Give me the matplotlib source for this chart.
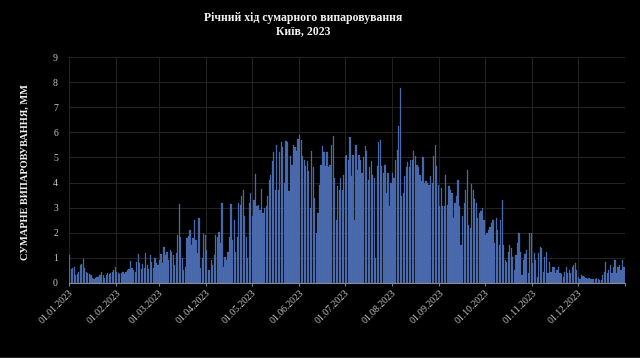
import matplotlib
matplotlib.use("Agg")
import matplotlib.pyplot as plt
from matplotlib.lines import Line2D

title = "Річний хід сумарного випаровування\nКиїв, 2023"
ylabel = "СУМАРНЕ ВИПАРОВУВАННЯ, ММ"
month_labels = ["01.01.2023", "01.02.2023", "01.03.2023", "01.04.2023", "01.05.2023", "01.06.2023",
                "01.07.2023", "01.08.2023", "01.09.2023", "01.10.2023", "01.11.2023", "01.12.2023"]
month_lengths = [31, 28, 31, 30, 31, 30, 31, 31, 30, 31, 30, 31]

jan = [1.10, 0.55, 0.60, 0.65, 0.30, 0.35, 0.45, 0.70, 0.75, 0.95, 0.60, 0.45, 0.40, 0.35, 0.30, 0.20,
       0.15, 0.18, 0.25, 0.22, 0.30, 0.45, 0.30, 0.20, 0.30, 0.40, 0.35, 0.40, 0.45, 0.50, 0.65]
feb = [0.45, 0.40, 0.35, 0.40, 0.45, 0.35, 0.45, 0.50, 0.55, 0.88, 0.60, 0.50, 0.45, 0.85, 1.16, 0.80,
       0.55, 0.75, 0.60, 1.19, 0.70, 0.55, 1.10, 0.85, 0.60, 1.00, 0.80, 0.73]
mar = [0.90, 1.16, 0.80, 1.45, 1.10, 1.24, 0.90, 1.30, 1.25, 1.10, 0.70, 1.20, 1.90, 3.15, 1.85, 1.00,
       0.50, 0.65, 1.80, 1.88, 2.10, 1.50, 1.80, 2.50, 1.70, 1.20, 2.60, 0.60, 1.00, 1.95, 1.90]
apr = [1.30, 0.50, 0.50, 0.90, 0.70, 1.10, 1.90, 1.85, 2.05, 1.60, 3.20, 0.65, 1.05, 0.90, 1.25, 1.85,
       3.15, 1.70, 2.50, 1.25, 1.85, 3.20, 3.10, 3.45, 3.70, 2.65, 1.85, 1.00, 3.20, 3.60]
may = [2.65, 3.30, 4.35, 3.05, 3.10, 2.90, 3.75, 2.80, 3.00, 3.05, 3.45, 4.10, 4.30, 4.85, 5.20, 3.70,
       5.50, 3.70, 5.20, 5.60, 5.40, 4.00, 5.65, 5.60, 3.65, 5.05, 4.70, 5.50, 5.40, 5.25, 5.75]
jun = [5.90, 5.70, 5.05, 4.90, 4.65, 4.85, 4.45, 3.00, 5.25, 4.60, 3.40, 2.00, 2.80, 3.90, 4.70, 5.45,
       5.20, 4.65, 5.20, 4.60, 4.70, 5.50, 5.85, 4.20, 2.50, 3.85, 3.70, 4.20, 3.70, 4.30]
jul = [5.05, 5.10, 4.90, 5.80, 4.25, 5.10, 2.50, 5.50, 4.50, 5.10, 4.90, 4.40, 5.00, 5.45, 5.25, 4.10,
       4.60, 4.85, 4.30, 4.20, 1.00, 4.65, 5.60, 5.70, 4.65, 4.40, 4.70, 3.60, 4.40, 3.05, 4.00]
aug = [4.40, 4.20, 4.90, 5.30, 6.25, 7.75, 3.45, 3.60, 4.25, 4.60, 4.80, 4.60, 4.90, 4.90, 5.25, 5.05,
       4.70, 4.60, 4.30, 4.05, 5.00, 4.00, 4.05, 4.00, 3.90, 4.25, 4.00, 5.05, 5.50, 4.65, 3.90]
sep = [3.05, 3.80, 3.05, 3.05, 4.30, 3.10, 3.85, 3.70, 3.60, 2.60, 3.20, 3.45, 4.10, 3.05, 1.50, 2.65,
       3.20, 3.70, 4.50, 2.30, 2.20, 3.95, 3.70, 3.35, 3.20, 2.60, 2.80, 2.85, 3.00, 2.50]
oct_ = [1.90, 2.00, 2.10, 2.25, 2.40, 2.50, 1.60, 2.60, 2.10, 1.50, 2.50, 3.30, 1.50, 0.90, 0.85, 1.25,
        1.50, 1.40, 1.05, 0.50, 1.10, 1.60, 2.00, 1.25, 0.30, 0.90, 1.15, 1.30, 0.40, 2.00, 2.00]
nov = [0.80, 1.20, 0.90, 0.25, 1.20, 1.45, 1.40, 0.45, 1.05, 1.25, 0.40, 0.85, 0.45, 0.65, 0.65, 0.40,
       0.50, 0.65, 0.40, 0.35, 0.25, 0.45, 0.65, 0.40, 0.50, 0.40, 0.65, 0.70, 0.80, 0.50]
dec = [0.25, 0.15, 0.30, 0.28, 0.25, 0.20, 0.16, 0.20, 0.15, 0.16, 0.15, 0.16, 0.20, 0.15, 0.12, 0.12,
       0.30, 0.45, 0.85, 0.40, 0.50, 0.70, 0.40, 0.65, 0.90, 0.40, 0.65, 0.70, 0.50, 0.90, 0.65]

values = jan + feb + mar + apr + may + jun + jul + aug + sep + oct_ + nov + dec
days = list(range(len(values)))

month_starts = [0]
for n in month_lengths:
    month_starts.append(month_starts[-1] + n)

fig = plt.figure(figsize=(6.4, 3.58), dpi=100, facecolor="black")
ax = fig.add_axes([69 / 640, (358 - 283) / 358, (625 - 69) / 640, (283 - 57) / 358])
ax.set_facecolor("black")

ax.bar(days, values, width=0.8, align="edge", color="#4665a9", edgecolor="#5a7bbf",
       linewidth=0.15, zorder=3)

ax.set_xlim(0, 365)
ax.set_ylim(0, 9)
ax.set_yticks(range(0, 10))
ax.set_xticks(month_starts)
ax.set_xticklabels(month_labels + [""])

serif = ["Liberation Serif", "DejaVu Serif"]
for lab in ax.get_xticklabels():
    lab.set_rotation(45)
    lab.set_ha("right")
    lab.set_rotation_mode("anchor")
    lab.set_fontfamily(serif)
    lab.set_fontsize(7)
    lab.set_color("#c8c8c8")
for lab in ax.get_yticklabels():
    lab.set_fontfamily(serif)
    lab.set_fontsize(7)
    lab.set_color("#c8c8c8")

ax.tick_params(axis="x", length=2, color="#808080", pad=2)
ax.tick_params(axis="y", length=0, pad=8)

ax.grid(True, color="#222222", linewidth=0.8, zorder=0)
for side in ["top", "right", "left"]:
    ax.spines[side].set_visible(False)
ax.spines["bottom"].set_color("#8c8c8c")
ax.spines["bottom"].set_linewidth(0.8)
ax.spines["bottom"].set_zorder(4)

fig.text(25 / 640, 1 - 172 / 358, ylabel, rotation=90, ha="center", va="center",
         fontfamily=serif, fontweight="bold", fontsize=7.5, color="#f0f0f0")

fig.text(303 / 640, 1 - 24.5 / 358, title, ha="center", va="center", fontfamily=serif,
         fontweight="bold", fontsize=8.5, color="#f2f2f2", linespacing=1.1)

fig.add_artist(Line2D([0, 1], [0.5 / 358, 0.5 / 358], color="#bfbfbf", linewidth=1,
                      transform=fig.transFigure))

fig.savefig("out.png", dpi=100, facecolor="black")
